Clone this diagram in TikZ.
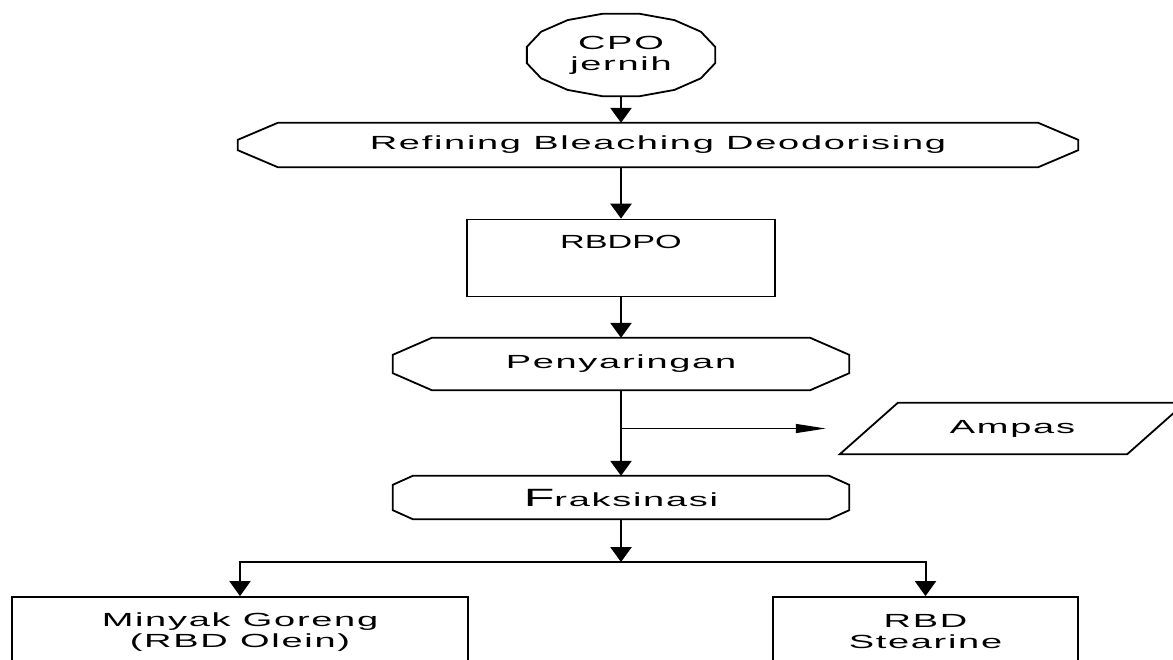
\documentclass[tikz,border=0pt]{standalone}
\usepackage{fontspec}
\setmainfont{Liberation Sans}
\newfontfamily\flowfont[FakeStretch=2.0,LetterSpace=9]{Liberation Sans}
\newfontfamily\tightfont[FakeStretch=1.8]{Liberation Sans}
\usetikzlibrary{arrows.meta, calc, shapes.geometric}

% outline of a preparation step: node, corner cut in x, corner cut in y
\newcommand{\prepoutline}[3]{%
    \draw[border] ($(#1.north west)+(#2,0)$) -- ($(#1.north east)+(-#2,0)$)
        -- ($(#1.north east)+(0,#3)$) -- ($(#1.south east)+(0,-#3)$)
        -- ($(#1.south east)+(-#2,0)$) -- ($(#1.south west)+(#2,0)$)
        -- ($(#1.south west)+(0,-#3)$) -- ($(#1.north west)+(0,#3)$) -- cycle;}

\begin{document}
\begin{tikzpicture}[x=1pt, y=-1pt]
    \tikzstyle{every node}=[font=\flowfont\fontsize{19}{21}\selectfont, align=center]
    \tikzstyle{border}=[draw=black, line width=1.8pt, line join=miter]
    \tikzstyle{process box}=[border, rectangle, inner sep=0pt]
    \tikzstyle{prep box}=[rectangle, inner sep=0pt]
    \tikzstyle{data box}=[rectangle, inner sep=0pt]
    \tikzstyle{main arrow}=[line width=2.8pt, -{Triangle[length=15pt, width=21pt]}]
    \tikzstyle{drop arrow}=[line width=2pt, -{Triangle[length=15pt, width=21pt]}]
    \tikzstyle{side arrow}=[line width=1.2pt, -{Triangle[length=30pt, width=9pt]}]

    \useasboundingbox (0,0) rectangle (1173,659);
    \clip (0,0) rectangle (1173,659);

    % Draw the process steps
    \node[ellipse, minimum width=192pt, minimum height=84pt, inner sep=0pt] (cpo) at (621,55) {CPO\\jernih};
    \draw[border, shift={(cpo.center)}] plot[domain=11.25:371.25, samples=17] ({96*cos(\x)},{42*sin(\x)}) -- cycle;

    \node[prep box, minimum width=840pt, minimum height=44pt] (rbd) at (658,145) {Refining Bleaching Deodorising};
    \prepoutline{rbd}{40}{17}

    \node[process box, minimum width=308pt, minimum height=77pt,
        text height=10pt, text depth=30pt] (rbdpo) at (621,258) {\tightfont RBDPO};

    \node[prep box, minimum width=456pt, minimum height=52pt] (pen) at (621,364) {Penyaringan};
    \prepoutline{pen}{39}{17}

    \node[prep box, minimum width=456pt, minimum height=43pt] (frak) at (621,497.5) {{\fontsize{25}{25}\selectfont F}raksinasi};
    \prepoutline{frak}{20}{9}

    % Draw the waste output
    \node[data box, minimum width=287pt, minimum height=51pt] (ampas) at (1012.5,428.5) {Ampas};
    \draw[border] ($(ampas.south west)+(-29,0)$) -- ($(ampas.south east)+(-29,0)$)
        -- ($(ampas.north east)+(29,0)$) -- ($(ampas.north west)+(29,0)$) -- cycle;

    % Draw the products
    \node[process box, minimum width=456pt, minimum height=70pt] (olein) at (240,632) {Minyak Goreng\\(RBD Olein)};
    \node[process box, minimum width=305pt, minimum height=70pt] (stearin) at (925.5,632) {RBD\\Stearine};

    % Connect the steps
    \draw[main arrow] (cpo.south) -- (cpo.south |- rbd.north);
    \draw[main arrow] (rbd.south -| rbdpo.north) -- (rbdpo.north);
    \draw[main arrow] (rbdpo) -- (pen);
    \draw[main arrow] (pen) -- (frak);

    \coordinate (waste) at (pen.south |- ampas.west);
    \draw[side arrow, shorten >=43pt] (waste) -- (ampas.west);

    \coordinate (split) at (621,562);
    \draw[main arrow] (frak) -- (split);
    \draw[line width=2pt] (olein.north |- split) -- (stearin.north |- split);
    \foreach \dest in {olein,stearin}
        \draw[drop arrow] (split) -| (\dest.north);
\end{tikzpicture}
\end{document}
